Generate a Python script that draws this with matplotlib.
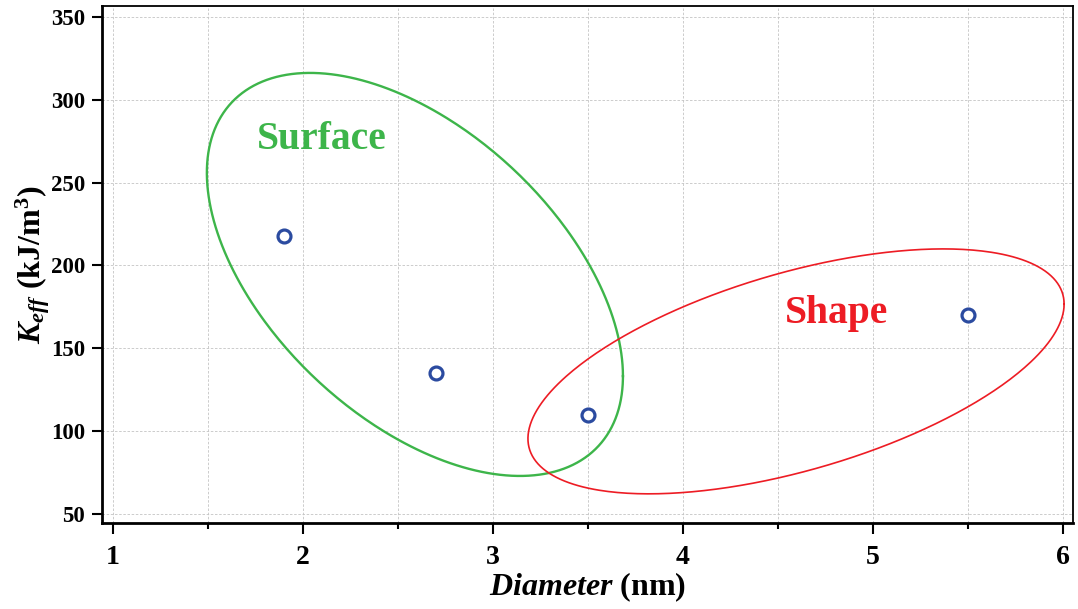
import numpy as np
import matplotlib
matplotlib.use("Agg")
import matplotlib.pyplot as plt
from matplotlib.ticker import MultipleLocator

plt.rcParams['font.family'] = ['Liberation Serif', 'DejaVu Serif']
plt.rcParams['font.weight'] = 'bold'
plt.rcParams['mathtext.fontset'] = 'custom'
plt.rcParams['mathtext.rm'] = 'Liberation Serif:bold'
plt.rcParams['mathtext.bf'] = 'Liberation Serif:bold'
plt.rcParams['mathtext.it'] = 'Liberation Serif:italic:bold'

# data
diameters = [1.9, 2.7, 3.5, 5.5]
keff = [218, 135, 110, 170]
x_ticks = [1, 2, 3, 4, 5, 6]
y_ticks = [50, 100, 150, 200, 250, 300, 350]

# ellipse annotations: center x, center y, x half-extent, y half-extent, phase (deg)
green_ell = dict(cx=2.589, cy=194.6, rx=1.095, ry=121.6, d=120.3)
red_ell = dict(cx=4.595, cy=136.1, rx=1.411, ry=73.9, d=56.7)
labels = [("Surface", 2.1, 276, '#3DB54A'), ("Shape", 4.81, 171, '#ED1C24')]

fig = plt.figure(figsize=(10.78, 6.09), dpi=100)
ax = fig.add_axes([0.0946, 0.1412, 0.9008, 0.8490])

ax.set_xlim(0.942, 6.053)
ax.set_ylim(44.6, 356.6)

t = np.linspace(0, 2 * np.pi, 400)
for e, col, lw in [(green_ell, '#3DB54A', 1.7), (red_ell, '#ED1C24', 1.2)]:
    xs = e['cx'] + e['rx'] * np.cos(t)
    ys = e['cy'] + e['ry'] * np.cos(t - np.deg2rad(e['d']))
    ax.plot(xs, ys, color=col, lw=lw, zorder=3)

ax.plot(diameters, keff, linestyle='none', marker='o', markersize=9.3,
        markerfacecolor='white', markeredgecolor='#2B4BA0', markeredgewidth=2.3, zorder=4)

for txt, x, y, col in labels:
    ax.text(x, y, txt, color=col, fontsize=28.5, fontweight='bold',
            ha='center', va='center', zorder=5)

ax.set_xticks(x_ticks)
ax.set_yticks(y_ticks)
ax.xaxis.set_minor_locator(MultipleLocator(0.5))
ax.grid(True, which='both', axis='x', color='#c4c4c4', linestyle='--', linewidth=0.6, dashes=(3, 2))
ax.grid(True, which='major', axis='y', color='#c4c4c4', linestyle='--', linewidth=0.6, dashes=(3, 2))
ax.set_axisbelow(True)

ax.tick_params(axis='x', which='major', direction='out', length=8, width=1.5, labelsize=20, pad=8)
ax.tick_params(axis='x', which='minor', direction='out', length=4, width=1.5)
ax.tick_params(axis='y', which='major', direction='out', length=7, width=1.5, labelsize=16.5, pad=5)
ax.tick_params(top=False, right=False)

for s in ['left', 'bottom']:
    ax.spines[s].set_linewidth(2.0)
for s in ['top', 'right']:
    ax.spines[s].set_linewidth(1.3)

ax.set_xlabel(r'$Diameter$ (nm)', fontsize=23, fontweight='bold', labelpad=0)
ax.set_ylabel(r'$K_{eff}$ (kJ/m$^{3}$)', fontsize=23, fontweight='bold', labelpad=-1)

fig.savefig('out.png', dpi=100)
